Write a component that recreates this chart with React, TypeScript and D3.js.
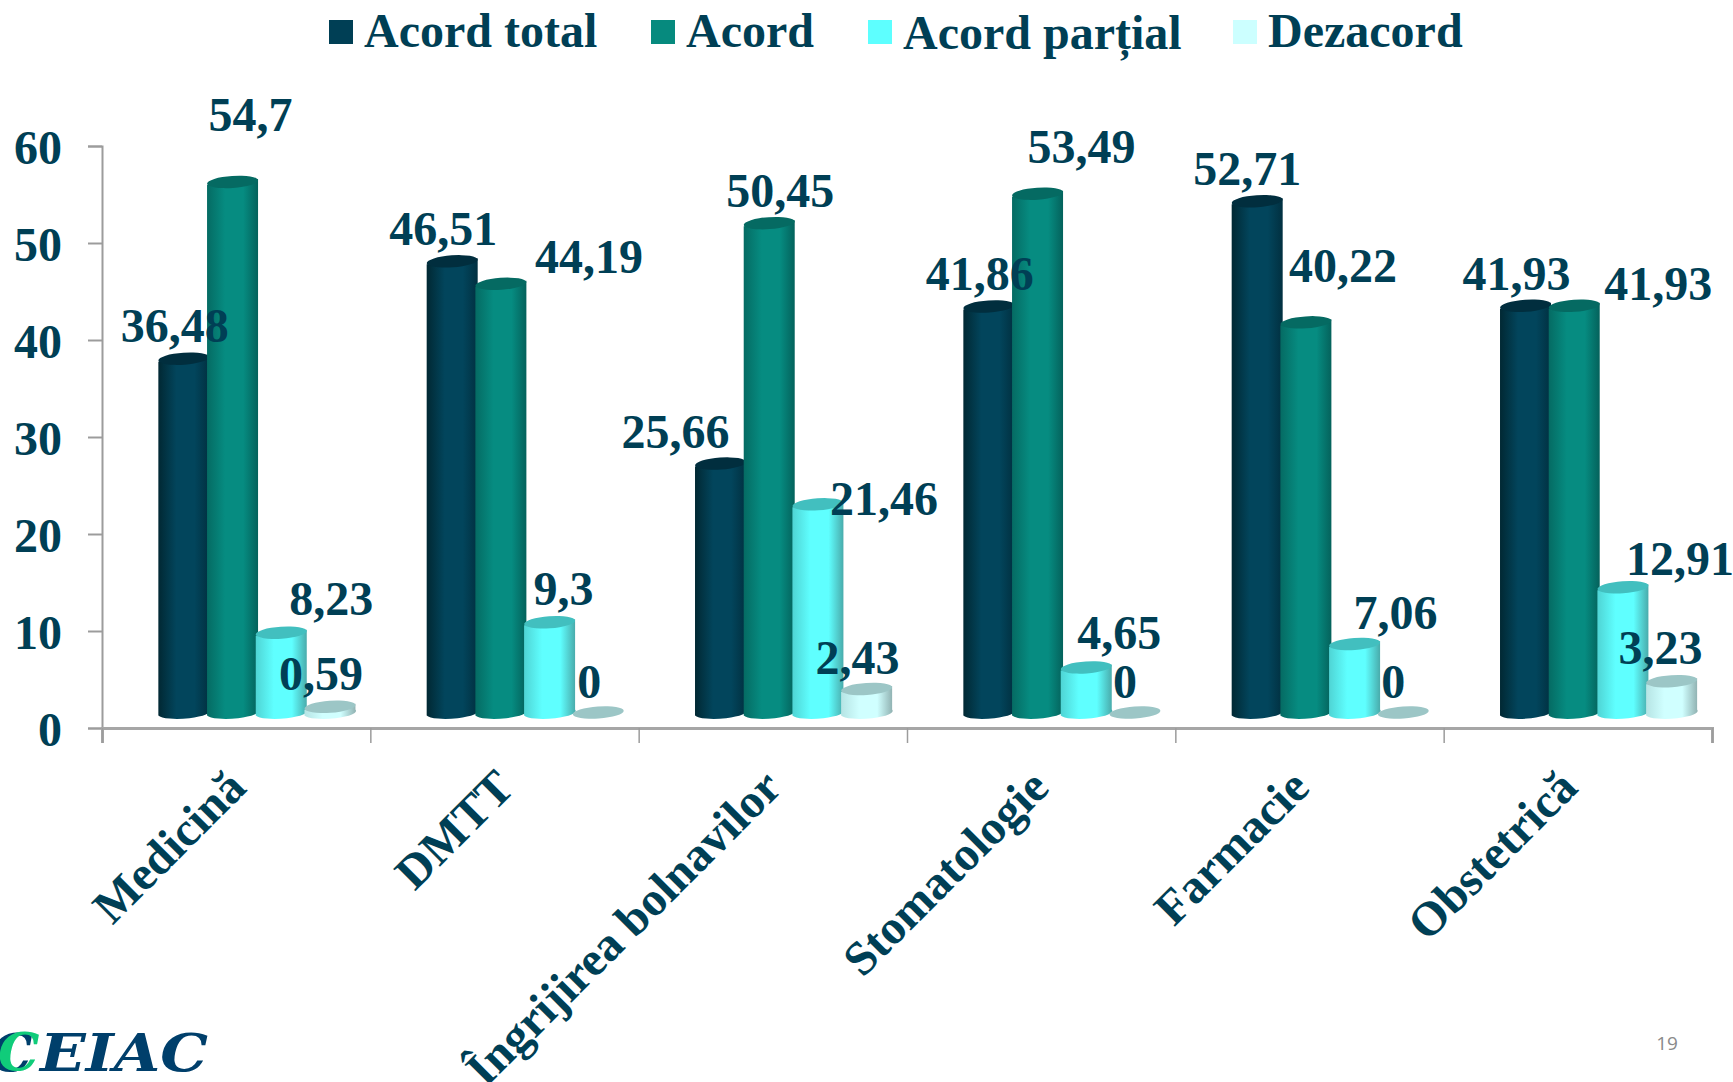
import React, { useEffect, useRef } from "react";
import * as d3 from "d3";

const categories = ["Medicină", "DMTT", "Îngrijirea bolnavilor", "Stomatologie", "Farmacie", "Obstetrică"];
const seriesNames = ["Acord total", "Acord", "Acord parțial", "Dezacord"];

const acordTotal = [36.48, 46.51, 25.66, 41.86, 52.71, 41.93];
const acord = [54.7, 44.19, 50.45, 53.49, 40.22, 41.93];
const acordPartial = [8.23, 9.3, 21.46, 4.65, 7.06, 12.91];
const dezacord = [0.59, 0, 2.43, 0, 0, 3.23];
const seriesValues = [acordTotal, acord, acordPartial, dezacord];

const yTicks = [0, 10, 20, 30, 40, 50, 60];

// hand placed data labels in the original, offset from the top of each bar
const LABEL_DX = [
  [-9, -9, -45, -9, -10, -9],
  [18, 88, 11, 44, 37, 84],
  [50, 14, 66, 33, 41, 57],
  [-9, -9, -9, -10, -10, -11],
];
const LABEL_DY = [
  [-32, -32, -31, -32, -32, -32],
  [-67, -27, -32, -46, -56, -22],
  [-34, -33, -5, -34, -31, -28],
  [-33, -30, -31, -30, -30, -33],
];
const CATEGORY_NUDGE = [3, 3, 2, 1, -7, -7];

const MARGIN = { TOP: 146, RIGHT: 21, BOTTOM: 354, LEFT: 102 };
const WIDTH = 1733;
const HEIGHT = 1082;
const TEXT_COLOR = "#003f55";
const FONT = "'Liberation Serif', serif";
const FONT_SIZE = 48;

const BAR_OFFSET = 15.5;
const BAR_RADIUS = 25.5;
const ELLIPSE_RY = 6;
const ELLIPSE_TILT = 3;
const TILT_DEG = -4;

const COLORS = [
  { swatch: "#003f55", edge: "#012833", edge2: "#012f3f", mid: "#02455c", top: "#012e3e" },
  { swatch: "#068a7e", edge: "#056b63", edge2: "#04605a", mid: "#068c81", top: "#056a62" },
  { swatch: "#5dffff", edge: "#4fd4d4", edge2: "#48a8a8", mid: "#5fffff", top: "#42bfbf" },
  { swatch: "#ccffff", edge: "#b6e4e4", edge2: "#8fb0b0", mid: "#d0ffff", top: "#9cc6c6" },
];

const LEGEND_X = [329, 651, 868, 1233];
const LEGEND_Y = [47, 47, 49, 47];

const App = () => {
  const svgRef = useRef<SVGSVGElement>(null);

  useEffect(() => {
    const svg = d3.select(svgRef.current);
    svg.selectAll("*").remove();

    const yScale = d3
      .scaleLinear()
      .domain([0, 60])
      .range([HEIGHT - MARGIN.BOTTOM, MARGIN.TOP]);
    const xScale = d3
      .scaleBand()
      .domain(categories)
      .range([MARGIN.LEFT, WIDTH - MARGIN.RIGHT]);
    const xBars = d3
      .scaleBand()
      .domain(seriesNames)
      .range([57.5, 57.5 + 4 * 48.7]);
    const xTickScale = d3
      .scaleLinear()
      .domain([0, categories.length])
      .range([MARGIN.LEFT, WIDTH - MARGIN.RIGHT]);

    const defs = svg.append("defs");
    COLORS.forEach((c, i) => {
      const grad = defs.append("linearGradient").attr("id", `cyl${i}`);
      grad.append("stop").attr("offset", "0%").attr("stop-color", c.edge);
      grad.append("stop").attr("offset", "35%").attr("stop-color", c.mid);
      grad.append("stop").attr("offset", "70%").attr("stop-color", c.mid);
      grad.append("stop").attr("offset", "100%").attr("stop-color", c.edge2);
    });

    // axes
    const yAxis = svg
      .append("g")
      .attr("transform", `translate(${MARGIN.LEFT},0)`)
      .call(d3.axisLeft(yScale).tickValues(yTicks).tickSize(14).tickSizeOuter(14).tickPadding(26));
    const xAxis = svg
      .append("g")
      .attr("transform", `translate(0,${HEIGHT - MARGIN.BOTTOM})`)
      .call(d3.axisBottom(xTickScale).ticks(categories.length).tickSize(15).tickSizeOuter(15).tickFormat(() => ""));
    yAxis.selectAll("path,line").attr("stroke", "#9c9c9c").attr("stroke-width", 2);
    xAxis.selectAll("line").attr("stroke", "#9c9c9c").attr("stroke-width", 1.5);
    xAxis.select("path").attr("stroke", "#a6a6a6").attr("stroke-width", 3);
    yAxis
      .selectAll("text")
      .attr("y", 2)
      .attr("fill", TEXT_COLOR)
      .attr("font-family", FONT)
      .attr("font-weight", "bold")
      .attr("font-size", FONT_SIZE);

    // cylinders
    categories.forEach((cat, ci) => {
      seriesNames.forEach((name, si) => {
        const value = seriesValues[si][ci];
        const cx = xScale(cat) + xBars(name) + xBars.bandwidth() / 2;
        const top = yScale(value) - BAR_OFFSET;
        const base = yScale(0) - BAR_OFFSET;
        const left = cx - BAR_RADIUS;
        const right = cx + BAR_RADIUS;
        if (value > 0) {
          svg
            .append("path")
            .attr(
              "d",
              `M${left},${top + ELLIPSE_TILT} L${left},${base + ELLIPSE_TILT} ` +
                `A${BAR_RADIUS},${ELLIPSE_RY} ${TILT_DEG} 0 0 ${right},${base - ELLIPSE_TILT} ` +
                `L${right},${top - ELLIPSE_TILT} Z`
            )
            .attr("fill", `url(#cyl${si})`);
        }
        svg
          .append("ellipse")
          .attr("cx", cx)
          .attr("cy", top)
          .attr("rx", BAR_RADIUS)
          .attr("ry", ELLIPSE_RY)
          .attr("transform", `rotate(${TILT_DEG} ${cx} ${top})`)
          .attr("fill", COLORS[si].top);
      });
    });

    // data labels sit above every bar
    categories.forEach((cat, ci) => {
      seriesNames.forEach((name, si) => {
        const value = seriesValues[si][ci];
        const cx = xScale(cat) + xBars(name) + xBars.bandwidth() / 2;
        svg
          .append("text")
          .attr("x", cx + LABEL_DX[si][ci])
          .attr("y", yScale(value) - BAR_OFFSET + LABEL_DY[si][ci])
          .attr("dy", "0.33em")
          .attr("text-anchor", "middle")
          .attr("fill", TEXT_COLOR)
          .attr("font-family", FONT)
          .attr("font-weight", "bold")
          .attr("font-size", FONT_SIZE)
          .text(String(value).replace(".", ","));
      });
    });

    // category labels
    categories.forEach((cat, ci) => {
      const x = xScale(cat) + xScale.bandwidth() / 2 + 9 + CATEGORY_NUDGE[ci];
      svg
        .append("text")
        .attr("transform", `translate(${x},${HEIGHT - MARGIN.BOTTOM + 62}) rotate(-45)`)
        .attr("text-anchor", "end")
        .attr("fill", TEXT_COLOR)
        .attr("font-family", FONT)
        .attr("font-weight", "bold")
        .attr("font-size", FONT_SIZE)
        .text(cat);
    });

    // legend
    seriesNames.forEach((name, i) => {
      svg
        .append("rect")
        .attr("x", LEGEND_X[i])
        .attr("y", 20)
        .attr("width", 24)
        .attr("height", 24)
        .attr("fill", COLORS[i].swatch);
      svg
        .append("text")
        .attr("x", LEGEND_X[i] + 35)
        .attr("y", LEGEND_Y[i])
        .attr("fill", TEXT_COLOR)
        .attr("font-family", FONT)
        .attr("font-weight", "bold")
        .attr("font-size", FONT_SIZE)
        .text(name);
    });

    // page furniture
    svg
      .append("text")
      .attr("x", 1667)
      .attr("y", 1050)
      .attr("text-anchor", "middle")
      .attr("fill", "#8a8a8a")
      .attr("font-family", "'Open Sans', sans-serif")
      .attr("font-size", 19)
      .text("19");
    const logoFont = "'DejaVu Serif', serif";
    svg
      .append("text")
      .attr("x", -9)
      .attr("y", 1071)
      .attr("fill", "#003f6b")
      .attr("font-family", logoFont)
      .attr("font-weight", "bold")
      .attr("font-style", "italic")
      .attr("font-size", 52)
      .text("C");
    svg
      .append("text")
      .attr("x", -2)
      .attr("y", 1070)
      .attr("fill", "#10cc7a")
      .attr("font-family", logoFont)
      .attr("font-weight", "bold")
      .attr("font-style", "italic")
      .attr("font-size", 52)
      .text("C");
    svg
      .append("text")
      .attr("x", 40)
      .attr("y", 1071)
      .attr("fill", "#003f6b")
      .attr("font-family", logoFont)
      .attr("font-weight", "bold")
      .attr("font-style", "italic")
      .attr("font-size", 52)
      .attr("textLength", 168)
      .attr("lengthAdjust", "spacingAndGlyphs")
      .text("EIAC");
  }, []);

  return (
    <svg
      ref={svgRef}
      width={WIDTH}
      height={HEIGHT}
      style={{ position: "absolute", left: 0, top: 0, background: "#fff" }}
    ></svg>
  );
};

export default App;
